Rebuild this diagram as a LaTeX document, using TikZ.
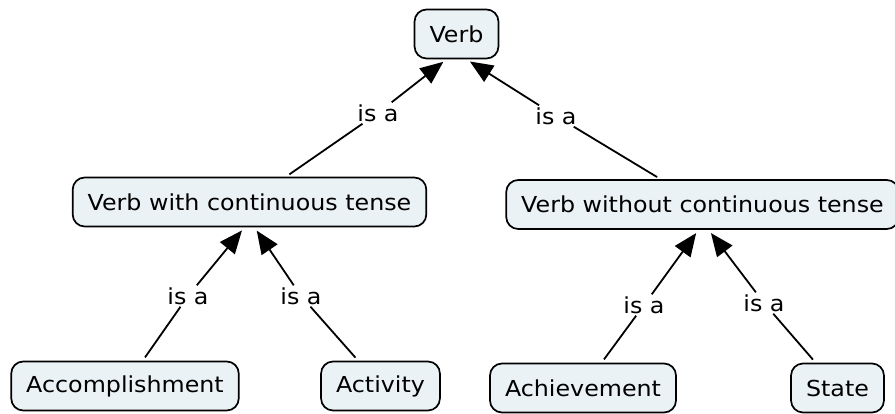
\documentclass[tikz,border=0pt]{standalone}
\usepackage{fontspec}
\setmainfont{DejaVu Sans}[FakeStretch=1.08]
\usetikzlibrary{arrows.meta}
\definecolor{conceptfill}{RGB}{235,242,245}
\tikzset{
  concept/.style={draw=black, line width=1.7pt, fill=conceptfill, rounded corners=12pt,
    inner xsep=15pt, inner ysep=0pt, minimum height=49pt,
    font=\fontsize{22}{26}\selectfont},
  linkword/.style={inner sep=2pt, font=\fontsize{22}{26}\selectfont},
  link/.style={line width=1.8pt, shorten <=4pt},
  linkarrow/.style={line width=1.8pt, shorten >=4pt,
    -{Triangle[length=23pt,width=19pt]}}
}
\begin{document}
\begin{tikzpicture}[x=1pt,y=-1pt]
\useasboundingbox (0,0) rectangle (895,414);

% concepts
\node[concept] (verb)  at (456.5,34)  {Verb};
\node[concept] (vwct)  at (249.5,202) {Verb with continuous tense};
\node[concept] (vwoct) at (702.5,204.5) {Verb without continuous tense};
\node[concept] (acc)   at (125,386)   {Accomplishment};
\node[concept] (act)   at (380.5,386) {Activity};
\node[concept] (ach)   at (583,388)   {Achievement};
\node[concept] (state) at (837.5,388) {State};

% linking phrases
\node[linkword] (l1) at (378,113) {is a};
\node[linkword] (l2) at (556,116) {is a};
\node[linkword] (l3) at (188,296) {is a};
\node[linkword] (l4) at (301,296) {is a};
\node[linkword] (l5) at (644,305) {is a};
\node[linkword] (l6) at (764,303) {is a};

% connections
\draw[link] (vwct) -- (l1);
\draw[linkarrow] (l1) -- ([xshift=-10pt]verb.south);
\draw[link] (vwoct) -- (l2);
\draw[linkarrow] (l2) -- ([xshift=10pt]verb.south);

\draw[link] (acc) -- (l3);
\draw[linkarrow] (l3) -- ([xshift=-5pt]vwct.south);
\draw[link] (act) -- (l4);
\draw[linkarrow] (l4) -- ([xshift=5pt]vwct.south);

\draw[link] (ach) -- (l5);
\draw[linkarrow] (l5) -- ([xshift=-4pt]vwoct.south);
\draw[link] (state) -- (l6);
\draw[linkarrow] (l6) -- ([xshift=6pt]vwoct.south);
\end{tikzpicture}
\end{document}
